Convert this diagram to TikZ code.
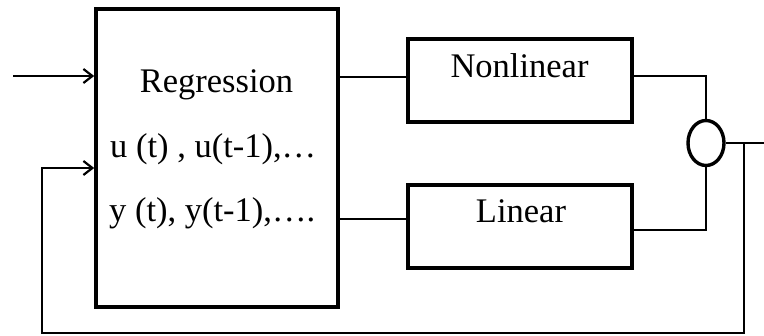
\documentclass[tikz,border=0pt]{standalone}
\usepackage{fontspec}
\setmainfont{Liberation Serif}
\usetikzlibrary{arrows.meta,shapes.geometric}
\begin{document}
\begin{tikzpicture}[x=1pt,y=-1pt,
  blk/.style={draw,line width=3.6pt,inner sep=0pt,rectangle},
  wire/.style={line width=2.2pt},
  arr/.style={wire,-{Straight Barb[length=9pt,width=14pt,line width=2.2pt]}},
  lbl/.style={inner sep=0pt,anchor=base,font=\fontsize{34.5}{40}\selectfont},
  lbll/.style={lbl,anchor=base west}]
\useasboundingbox (0,0) rectangle (764,336);
% blocks
\node[blk,minimum width=242pt,minimum height=298pt] (reg) at (217,158) {};
\node[blk,minimum width=224pt,minimum height=83pt] (nl) at (520,80.5) {};
\node[blk,minimum width=224pt,minimum height=83pt] (lin) at (520,226.5) {};
\node[draw,ellipse,line width=3.4pt,inner sep=0pt,minimum width=36pt,minimum height=45pt] (sum) at (706,143) {};
% labels
\node[lbl] (tReg) at (216.5,93) {Regression};
\node[lbll] (tU) at (110,158) {u (t) , u(t-1),…};
\node[lbll] (tY) at (109,222) {y (t), y(t-1),….};
\node[lbl] (tNl) at (519.5,78) {Nonlinear};
\node[lbl] (tLin) at (521,223) {Linear};
% coordinates
\coordinate (in) at (13,76);
\coordinate (out) at (764,143);
\coordinate (fb) at (744,143);
\coordinate (fbl) at (42,333);
% connectors
\draw[arr] (in) -- (in -| reg.west);
\draw[wire] ([yshift=3.5pt]nl.west -| reg.east) -- ([yshift=3.5pt]nl.west);
\draw[wire] ([yshift=7.5pt]lin.west -| reg.east) -- ([yshift=7.5pt]lin.west);
\draw[wire] ([yshift=4.5pt]nl.east) -| (sum.north);
\draw[wire] ([yshift=-3.5pt]lin.east) -| (sum.south);
\draw[wire] (sum.east) -- (out);
\draw[arr] (fb) |- (fbl) |- ([yshift=-10pt]reg.west);
\end{tikzpicture}
\end{document}
